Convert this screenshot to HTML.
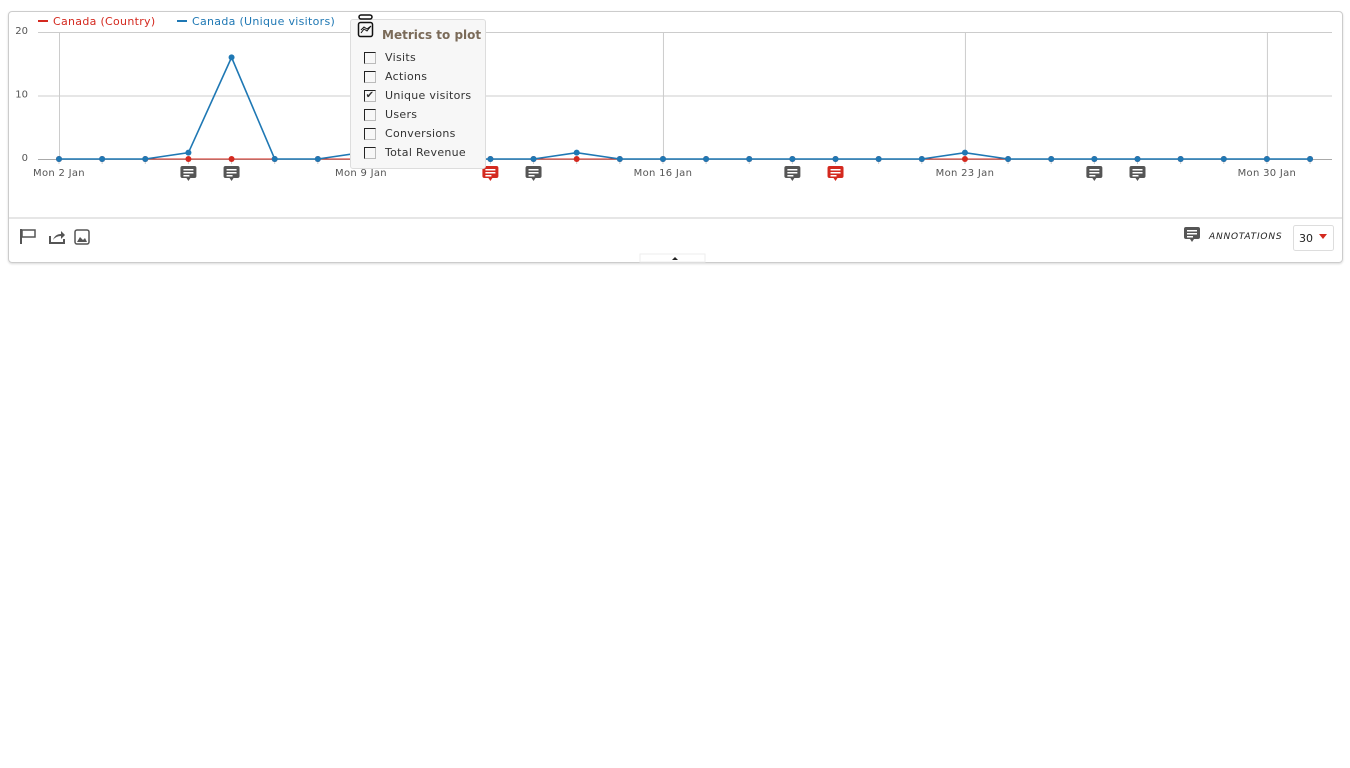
<!DOCTYPE html>
<html><head><meta charset="utf-8"><style>
body{margin:0;width:1350px;height:768px;background:#fff;font-family:"DejaVu Sans","Liberation Sans",sans-serif;position:relative;overflow:hidden}
.card{position:absolute;left:8px;top:11px;width:1333px;height:250px;border:1px solid #ccc;border-radius:4px;box-shadow:0 1px 2px rgba(0,0,0,.15)}
.pop{position:absolute;left:350px;top:19px;width:134px;height:148px;background:#f7f7f7;border:1px solid #ddd;border-radius:3px;font-size:11px;color:#333;letter-spacing:.3px}
.pop .t{position:absolute;left:31px;top:8px;font-weight:bold;color:#7a6a58;font-size:12px;letter-spacing:0}
.row{position:absolute;left:13px;height:14px}
.row span.cb{display:inline-block;width:10px;height:10px;border:1px solid #222;border-right-color:#bbb;border-bottom-color:#bbb;vertical-align:middle;margin-right:9px;font-size:10px;line-height:10px;text-align:center}
</style></head><body>
<div class="card"></div>
<svg width="1350" height="268" style="position:absolute;left:0;top:0" id="chart">
<g font-size="11" letter-spacing=".3">
<rect x="38" y="20" width="10" height="2" fill="#d4291f"/><text x="53" y="25" fill="#d4291f">Canada (Country)</text>
<rect x="177" y="20" width="10" height="2" fill="#1f78b4"/><text x="192" y="25" fill="#1f78b4">Canada (Unique visitors)</text>
</g>
<line x1="8" y1="218" x2="1342" y2="218" stroke="#ccc"/>
<g id="grid"></g><g id="series"></g><g id="ann"></g>
<g fill="#555">
<rect x="20" y="229" width="2" height="15"/><rect x="22" y="230" width="13" height="7" fill="none" stroke="#555" stroke-width="1.5"/>
<path d="M50 236 v7 h14 v-4" fill="none" stroke="#555" stroke-width="2"/><path d="M53 240 q2-6 8-6 v-3 l4 4 -4 4 v-3 q-5 0-8 4z"/>
<rect x="75" y="230" width="14" height="14" rx="2" fill="none" stroke="#555" stroke-width="1.5"/><path d="M77 242 l3-5 3 3 2-2 2 4z"/>
<rect x="1184" y="227" width="16" height="12" rx="2"/><path d="M1190 239 l2 3 2-3z"/>
<rect x="1187" y="230" width="10" height="1.5" fill="#fff"/><rect x="1187" y="233" width="10" height="1.5" fill="#fff"/><rect x="1187" y="236" width="6" height="1.5" fill="#fff"/>
</g>
<text x="1209" y="239" font-size="9" font-style="italic" fill="#222" letter-spacing=".8">ANNOTATIONS</text>
<rect x="1293.5" y="225.5" width="40" height="25" rx="2" fill="#fff" stroke="#ddd"/>
<text x="1299" y="242" font-size="11" fill="#222">30</text><path d="M1319 234 h8 l-4 5z" fill="#d4291f"/>
<rect x="640" y="254" width="65" height="8" fill="#fff" stroke="#eee"/><path d="M672 260 l3-3 3 3z" fill="#222"/>
</svg>
<div class="pop">
<svg style="position:absolute;left:6px;top:-6px" width="18" height="26"><rect x="2" y="1" width="13" height="4" rx="2" fill="none" stroke="#111" stroke-width="1.5"/><rect x="1.5" y="8.5" width="14" height="14" rx="2" fill="none" stroke="#111" stroke-width="1.5"/><path d="M4 19 l3-4 3 2 4-5 M4 16 l3-3 3 2 4-3" stroke="#111" fill="none"/></svg>
<div class="t">Metrics to plot</div>
<div class="row" style="top:31px"><span class="cb"></span>Visits</div>
<div class="row" style="top:50px"><span class="cb"></span>Actions</div>
<div class="row" style="top:69px"><span class="cb">✔</span>Unique visitors</div>
<div class="row" style="top:88px"><span class="cb"></span>Users</div>
<div class="row" style="top:107px"><span class="cb"></span>Conversions</div>
<div class="row" style="top:126px"><span class="cb"></span>Total Revenue</div>
</div>
<script>
const days=[2,3,4,5,6,7,8,9,10,11,12,13,14,15,16,17,18,19,20,21,22,23,24,25,26,27,28,29,30,31];
const uniqueVisitors=[0,0,0,1,16,0,0,1,0,0,0,0,1,0,0,0,0,0,0,0,0,1,0,0,0,0,0,0,0,0];
const country=[0,0,0,0,0,0,0,0,0,0,0,0,0,0,0,0,0,0,0,0,0,0,0,0,0,0,0,0,0,0];
const yTicks=[0,10,20];
const xLabels=["Mon 2 Jan","Mon 9 Jan","Mon 16 Jan","Mon 23 Jan","Mon 30 Jan"];
const xLabelDays=[2,9,16,23,30];
const annDays=[5,6,12,13,19,20,26,27];
const annRed=[false,false,true,false,false,true,false,false];
const NS="http://www.w3.org/2000/svg";
const X=d=>59+(d-2)*43.14, Y=v=>159-v*6.35;
function mk(t,a,p){const e=document.createElementNS(NS,t);for(const k in a)e.setAttribute(k,a[k]);p.appendChild(e);return e;}
const g=document.getElementById('grid'),s=document.getElementById('series'),an=document.getElementById('ann');
yTicks.forEach(v=>{const l=mk('line',{x1:38,x2:1332,y1:Y(v)+.5,y2:Y(v)+.5,stroke:v?'#ccc':'#aaa'},g);


const t=mk('text',{x:28,y:Y(v)+2,'font-size':10,fill:'#555','text-anchor':'end'},g);t.textContent=v;

});
days.forEach(d=>{mk('line',{x1:X(d),x2:X(d),y1:159,y2:164,stroke:'#ccc'},g);});
xLabelDays.forEach((d,i)=>{const l=mk('line',{x1:X(d)+.5,x2:X(d)+.5,y1:32,y2:159,stroke:'#ccc'},g);


const t=mk('text',{x:X(d),y:176,'font-size':10,fill:'#555','text-anchor':'middle','letter-spacing':'.3'},g);t.textContent=xLabels[i];

});
function series(vals,col,name,w){const p=mk('polyline',{points:vals.map((v,i)=>X(days[i])+','+Y(v)).join(' '),fill:'none',stroke:col,'stroke-width':w},s);


vals.forEach((v,i)=>{const c=mk('circle',{cx:X(days[i]),cy:Y(v),r:3,fill:col},s);

});}
series(country,'#d4291f','country',1);
series(uniqueVisitors,'#1f78b4','unique-visitors',1.6);
annDays.forEach((d,i)=>{const x=X(d),col=annRed[i]?'#d4291f':'#555';
const gg=mk('g',{},an);


mk('rect',{x:x-8,y:166,width:16,height:12,rx:2,fill:col},gg);mk('path',{d:`M${x-2} 178 l2 3 2-3z`,fill:col},gg);
[169,172,175].forEach((yy,j)=>mk('rect',{x:x-5,y:yy,width:j==2?6:10,height:1.5,fill:'#fff'},gg));});
</script>
</body></html>
